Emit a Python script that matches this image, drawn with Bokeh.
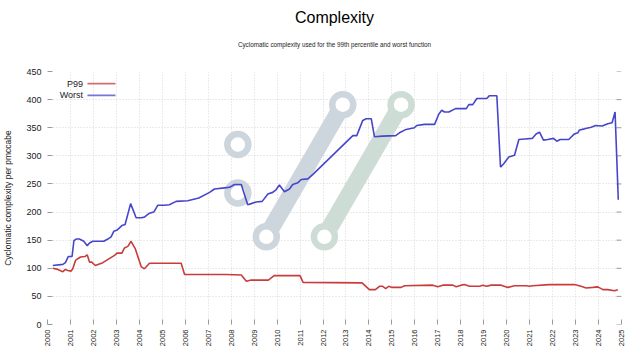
import math
from bokeh.plotting import figure
from bokeh.models import Range1d, FixedTicker, Title, Label, LinearAxis
from bokeh.embed import file_html
from bokeh.resources import INLINE

# ---- data ----
worst_years = [2000.23, 2000.67, 2000.78, 2000.91, 2001.07, 2001.15, 2001.25, 2001.39, 2001.58, 2001.73,
               2001.83, 2001.97, 2002.45, 2002.63, 2002.77, 2002.89, 2003.03, 2003.24, 2003.38, 2003.62,
               2003.86, 2004.08, 2004.22, 2004.44, 2004.63, 2004.80, 2005.07, 2005.31, 2005.60, 2006.11,
               2006.59, 2007.06, 2007.27, 2007.71, 2007.93, 2008.14, 2008.44, 2008.72, 2008.87, 2009.09,
               2009.35, 2009.60, 2009.81, 2009.96, 2010.10, 2010.32, 2010.54, 2010.68, 2010.90, 2011.05,
               2011.34, 2011.56, 2013.30, 2013.47, 2013.73, 2013.88, 2014.10, 2014.24, 2014.60, 2015.16,
               2015.33, 2015.62, 2015.98, 2016.08, 2016.42, 2016.86, 2017.04, 2017.17, 2017.29, 2017.48,
               2017.77, 2018.24, 2018.35, 2018.52, 2018.70, 2019.13, 2019.25, 2019.57, 2019.73, 2019.87,
               2020.09, 2020.34, 2020.53, 2020.78, 2021.11, 2021.28, 2021.43, 2021.60, 2021.79, 2022.04,
               2022.18, 2022.33, 2022.70, 2022.95, 2023.10, 2023.17, 2023.39, 2023.68, 2023.87, 2024.16,
               2024.40, 2024.59, 2024.72, 2024.86]
worst_values = [105, 107, 110, 121, 121, 149, 152, 152, 148, 140,
                145, 148, 148, 152, 156, 166, 168, 176, 178, 215,
                190, 190, 191, 198, 200, 212, 212, 213, 219, 220,
                225, 235, 241, 243, 244, 249, 249, 213, 215, 218,
                219, 232, 235, 240, 248, 236, 241, 249, 252, 258,
                259, 267, 336, 336, 363, 366, 366, 334, 335, 336,
                341, 347, 350, 354, 356, 356, 374, 381, 378, 378,
                384, 384, 391, 391, 402, 402, 407, 407, 280, 286,
                298, 301, 329, 330, 331, 339, 342, 328, 329, 331,
                326, 329, 329, 339, 341, 346, 348, 351, 354, 353,
                357, 359, 378, 222]

p99_years = [2000.23, 2000.45, 2000.67, 2000.78, 2000.88, 2001.03, 2001.10, 2001.22, 2001.32, 2001.44,
             2001.64, 2001.73, 2001.83, 2001.93, 2002.08, 2002.41, 2002.92, 2003.03, 2003.24, 2003.35,
             2003.50, 2003.64, 2003.82, 2004.08, 2004.22, 2004.44, 2005.82, 2005.97, 2007.78, 2008.44,
             2008.66, 2008.87, 2009.62, 2009.87, 2011.00, 2011.13, 2013.70, 2014.02, 2014.28, 2014.46,
             2014.60, 2014.73, 2014.86, 2015.01, 2015.40, 2015.55, 2016.78, 2017.00, 2017.22, 2017.65,
             2017.80, 2018.02, 2018.16, 2018.38, 2018.82, 2018.96, 2019.13, 2019.32, 2019.76, 2020.05,
             2020.34, 2020.85, 2020.99, 2021.13, 2021.86, 2022.95, 2023.24, 2023.46, 2023.75, 2023.97,
             2024.19, 2024.40, 2024.69, 2024.84]
p99_values = [100, 98, 94, 98, 96, 95, 99, 114, 117, 120,
              121, 124, 111, 111, 105, 110, 123, 127, 127, 136,
              139, 148, 135, 103, 99, 109, 109, 89, 89, 88,
              77, 79, 79, 87, 87, 75, 74, 62, 62, 68,
              68, 64, 68, 66, 66, 69, 70, 67, 70, 70,
              67, 70, 71, 68, 68, 70, 68, 70, 70, 66,
              69, 69, 68, 69, 71, 71, 68, 65, 66, 67,
              62, 62, 60, 62]

x_ticks = list(range(2000, 2026))
y_ticks = [0, 50, 100, 150, 200, 250, 300, 350, 400, 450]
series_names = ["P99", "Worst"]
series_colors = ["#c83c3c", "#4646cc"]
title_text = "Complexity"
subtitle_text = "Cyclomatic complexity used for the 99th percentile and worst function"

FONT = "Liberation Sans"
TXT = "#222222"
TICK = "#9a9a9a"

p = figure(frame_width=574, frame_height=253, output_backend="svg", toolbar_location=None,
           x_range=Range1d(2000, 2025), y_range=Range1d(0, 450),
           min_border_left=40, min_border_right=10, min_border_top=64, min_border_bottom=27)
p.margin = (5, 0, 0, 0)
p.outline_line_color = None
p.background_fill_color = "white"
p.border_fill_color = "white"

# subtitle (closest to the plot)
p.add_layout(Title(text=subtitle_text, align="center", text_font=FONT, text_font_size="6.3px",
                   text_font_style="normal", text_color=TXT, standoff=47), "above")
# main title drawn as the label of a bare top axis (no ticks, no line)
top_axis = LinearAxis(ticker=FixedTicker(ticks=[]), axis_line_color=None,
                      major_tick_in=0, major_tick_out=0, minor_tick_in=0, minor_tick_out=0,
                      major_label_standoff=0,
                      axis_label=title_text, axis_label_text_font=FONT,
                      axis_label_text_font_size="16px", axis_label_text_font_style="normal",
                      axis_label_text_color="#000000", axis_label_standoff=-10)
p.add_layout(top_axis, "above")

# watermark (decorative)
wm_blue = "#cdd5dd"
wm_green = "#cedcd6"
p.segment(x0=[2009.53], y0=[156], x1=[2012.86], y1=[391], line_color=wm_blue, line_width=17)
p.segment(x0=[2012.06], y0=[156], x1=[2015.40], y1=[391], line_color=wm_green, line_width=17)
p.scatter(x=[2008.29, 2008.29, 2009.53, 2012.86], y=[320, 234, 156, 391], size=21,
          fill_color="white", line_color=wm_blue, line_width=6.5)
p.scatter(x=[2012.06, 2015.40], y=[156, 391], size=21,
          fill_color="white", line_color=wm_green, line_width=6.5)

# grids
for g in (p.xgrid, p.ygrid):
    g.grid_line_color = "#d6d6d6"
    g.grid_line_dash = "1 2"
    g.grid_line_width = 1
p.xgrid.ticker = FixedTicker(ticks=x_ticks)
p.ygrid.ticker = FixedTicker(ticks=y_ticks)

# axes
xa = p.below[0]
ya = p.left[0]
for ax in (xa, ya):
    ax.axis_line_color = None
    ax.major_tick_in = 5
    ax.major_tick_out = 0
    ax.minor_tick_line_color = None
    ax.major_tick_line_color = TICK
    ax.major_label_text_font = FONT
    ax.major_label_text_color = TXT
xa.ticker = FixedTicker(ticks=x_ticks)
ya.ticker = FixedTicker(ticks=y_ticks)
xa.major_label_orientation = math.pi / 2
xa.major_label_text_font_size = "7.5px"
xa.major_label_standoff = 5
ya.major_label_text_font_size = "9px"
ya.major_label_standoff = 6
ya.axis_label = "Cyclomatic complexity per pmccabe"
ya.axis_label_text_font = FONT
ya.axis_label_text_font_size = "8.5px"
ya.axis_label_text_font_style = "normal"
ya.axis_label_text_color = TXT
ya.axis_label_standoff = 10

# mirrored tick marks on the right edge (no labels)
p.ray(x=[p.x_range.end] * len(y_ticks), y=y_ticks, length=5, length_units="screen",
      angle=math.pi, line_color=TICK, line_width=1)

# series
p.line(p99_years, p99_values, line_color=series_colors[0], line_width=1.6)
p.line(worst_years, worst_values, line_color=series_colors[1], line_width=1.6)

# legend (label left of line sample, as in reference)
legend_y = [428.5, 407.5]
for name, color, ly in zip(series_names, series_colors, legend_y):
    p.add_layout(Label(x=2001.55, y=ly, text=name, text_align="right", text_baseline="middle",
                       text_font=FONT, text_font_size="9px", text_color=TXT))
    p.line([2001.74, 2002.96], [ly, ly], line_color=color, line_width=1.6, line_alpha=0.75)

open("out.html", "w").write(file_html(p, INLINE))
